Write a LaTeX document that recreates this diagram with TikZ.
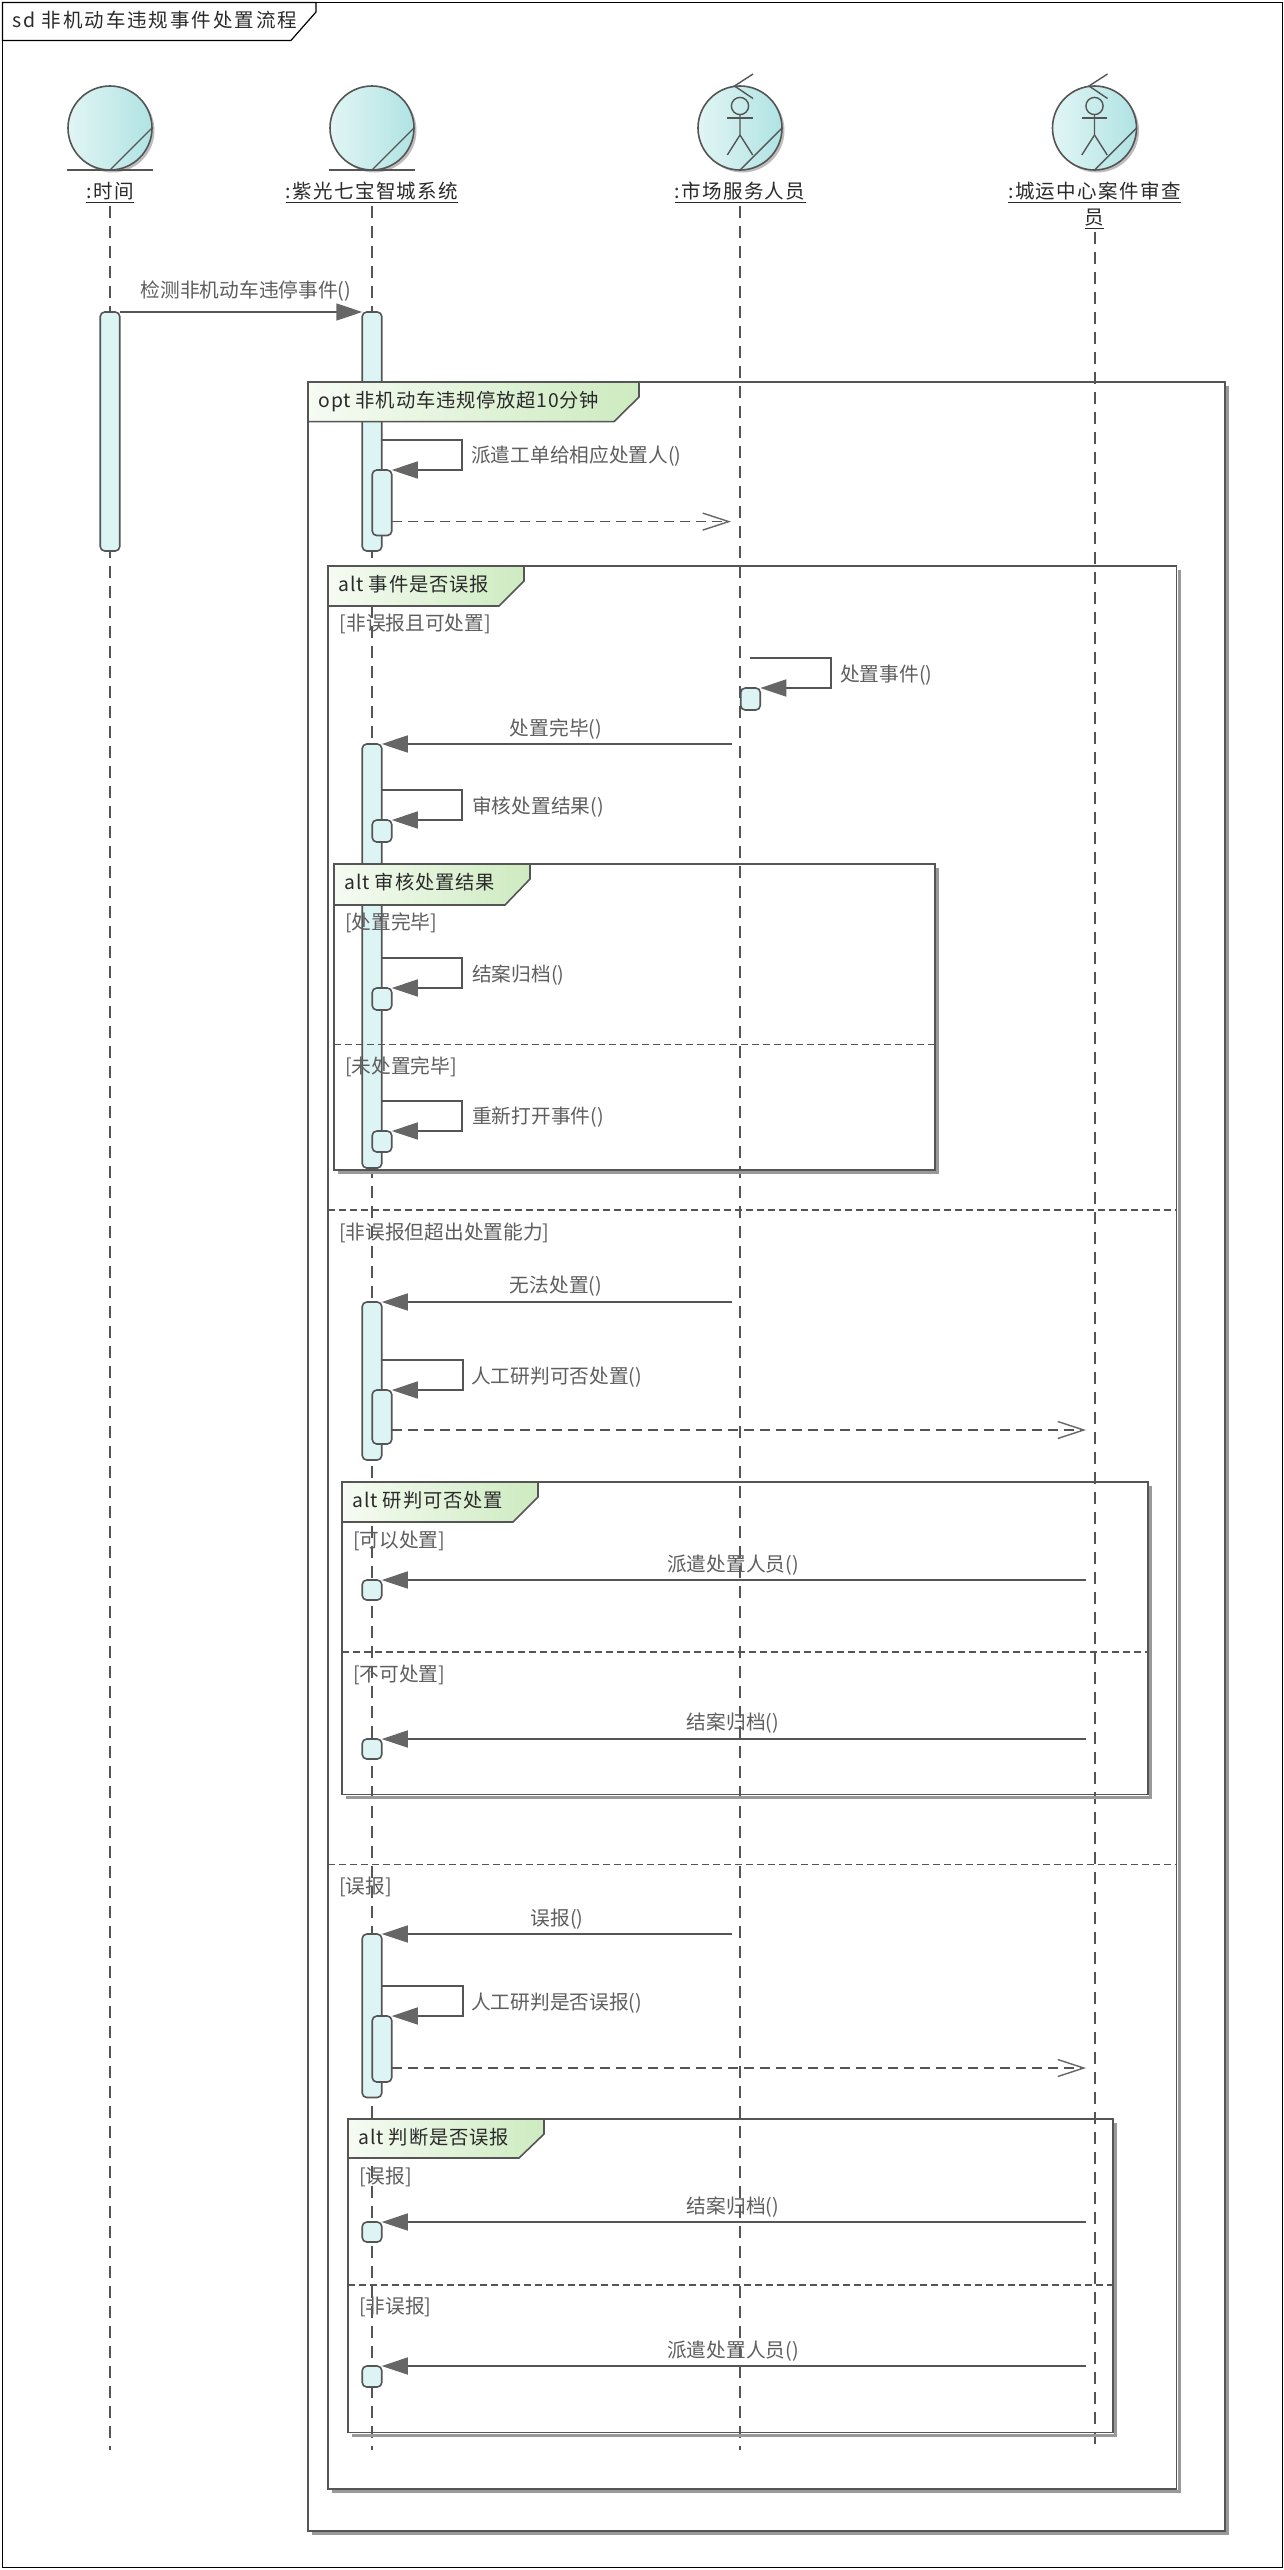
\documentclass[tikz,border=0pt]{standalone}
\usepackage{fontspec}
\setmainfont{Noto Sans CJK SC}
\newfontfamily\lblfont[LetterSpace=7]{Noto Sans CJK SC}
\newfontfamily\sdfont[LetterSpace=10]{Noto Sans CJK SC}
\newfontfamily\ttlfont[LetterSpace=4]{Noto Sans CJK SC}
\usetikzlibrary{arrows.meta}
\definecolor{ln}{HTML}{555555}
\definecolor{tipc}{HTML}{666666}
\definecolor{txtc}{HTML}{5E5E5E}
\definecolor{dark}{HTML}{2A2A2A}
\definecolor{actf}{HTML}{DCF4F4}
\definecolor{hl}{HTML}{E2F5F5}
\definecolor{hm}{HTML}{D8F1F1}
\definecolor{hr}{HTML}{B0E3E3}
\definecolor{tabl}{HTML}{F6FBF3}
\definecolor{tabr}{HTML}{CDEBC0}
\definecolor{shad}{HTML}{999999}
\definecolor{hshad}{HTML}{BDBDBD}
\tikzset{
  x=1pt,y=-1pt,
  headc/.style={circle,draw=ln,line width=1.6pt,minimum size=84pt,inner sep=0pt,outer sep=0pt,left color=hl,middle color=hm,right color=hr},
  uline/.style={draw=ln,line width=1.6pt},
  figline/.style={draw=ln,line width=1.4pt},
  lifel/.style={draw=ln,line width=1.5pt,dash pattern=on 12pt off 8pt},
  actbox/.style={draw=ln,line width=1.6pt,fill=actf,rounded corners=4.5pt,inner sep=0pt,outer sep=0pt,minimum width=19.5pt},
  msg/.style={draw=ln,line width=1.6pt,-{Triangle[length=26pt,width=17pt,fill=tipc,color=tipc]}},
  ret/.style={draw=ln,line width=1.7pt,dash pattern=on 10pt off 6pt,-{Straight Barb[length=26pt,width=17pt,color=tipc,line width=1.4pt]}},
  fragline/.style={draw=ln,line width=1.9pt},
  fragshadow/.style={draw=shad,line width=3pt},
  sepl/.style={draw=ln,line width=1.7pt,dash pattern=on 7pt off 4pt},
  tabf/.style={draw=ln,line width=1.6pt,left color=tabl,right color=tabr},
  lbl/.style={font=\lblfont\fontsize{19.5}{22}\selectfont,text=dark,inner sep=0pt,text height=16pt,text depth=3.5pt},
  mtxt/.style={font=\fontsize{19.7}{22}\selectfont,text=txtc,inner sep=0pt,text height=16pt,text depth=3pt},
  guard/.style={font=\fontsize{19.7}{22}\selectfont,text=txtc,inner sep=0pt,text height=16pt,text depth=3pt,anchor=west},
  ttl/.style={font=\ttlfont\fontsize{19.3}{22}\selectfont,text=dark,inner sep=0pt,text height=16pt,text depth=3pt,anchor=west},
}
\newcommand{\acta}[4]{% name, cx, top, bottom
  \pgfmathsetmacro{\ymid}{(#3+#4)/2}\pgfmathsetmacro{\hgt}{#4-#3}
  \node[actbox,minimum height=\hgt pt] (#1) at (#2,\ymid) {};}
\newcommand{\fragm}[9]{% name,l,t,r,b,tabright,tabbot,notch,title
  \draw[fragshadow] (#4+2.5,#3+4) -- (#4+2.5,#5+2.5) -- (#2+4,#5+2.5);
  \draw[fragline] (#2,#3) rectangle (#4,#5);
  \draw[tabf] (#2,#3) -- (#6,#3) -- (#6,#3+15) -- (#8,#7) -- (#2,#7) -- cycle;
  \node[ttl] (#1) at (#2+10.5,#3+18.5) {#9};}
\newcommand{\headsym}[2]{% name, cx
  \fill[hshad] (#2+2.5,130.5) circle (42pt);
  \node[headc] (#1) at (#2,128) {};
  \draw[figline] (#1.south) -- (#1.east);}
\newcommand{\stick}[1]{%
  \begin{scope}[shift={(#1)}]
    \draw[figline] (0,106) circle (8.6pt);
    \draw[figline] (-12.7,118) -- (12.7,118);
    \draw[figline] (0,114.6) -- (0,135) -- (-12.7,155);
    \draw[figline] (0,135) -- (12.7,155);
    \draw[figline] (13,74) -- (-5.5,86) -- (13,98.5);
  \end{scope}}
\begin{document}
\begin{tikzpicture}
\useasboundingbox (0,0) rectangle (1284,2570);
\fill[white] (0,0) rectangle (1284,2570);
% outer frame
\draw[black,line width=1.2pt] (2.4,2.4) rectangle (1282.6,2567.6);
\draw[black,line width=1.2pt,fill=white] (2.4,2.4) -- (316,2.4) -- (316,12) -- (291,40.4) -- (2.4,40.4) -- cycle;
\node[font=\sdfont\fontsize{19.5}{22}\selectfont,text=dark,inner sep=0pt,text height=16pt,text depth=3pt,anchor=west] (sd) at (12,20.5) {sd 非机动车违规事件处置流程};
% lifeline heads
\headsym{h1}{110}
\headsym{h2}{372}
\headsym{h3}{740}
\headsym{h4}{1094.5}
\draw[uline] (67,170) -- (153,170);
\draw[uline] (329,170) -- (415,170);
\stick{740,0}
\stick{1094.5,0}
% labels
\node[lbl] (l1) at (110,192) {:时间};
\node[lbl] (l2) at (372,192) {:紫光七宝智城系统};
\node[lbl] (l3) at (740,192) {:市场服务人员};
\node[lbl] (l4) at (1094.5,192) {:城运中心案件审查};
\node[lbl] (l4b) at (1094.5,218) {员};
\foreach \n in {l1,l2,l3,l4,l4b} \draw[draw=dark,line width=1.1pt] ([yshift=-0.5pt]\n.south west) -- ([yshift=-0.5pt]\n.south east);
% lifelines
\coordinate (e1) at (110,2450);
\coordinate (e2) at (372,2450);
\coordinate (e3) at (740,2450);
\coordinate (e4) at (1095,2446);
\draw[lifel] ([yshift=-4pt]h1.center |- l1.south) -- (e1);
\draw[lifel] ([yshift=-4pt]h2.center |- l2.south) -- (e2);
\draw[lifel] ([yshift=-4pt]h3.center |- l3.south) -- (e3);
\draw[lifel] ([yshift=-4pt]e4 |- l4b.south) -- (e4);
% activations
\acta{at}{110}{312}{551}
\acta{as}{372}{312}{551}
\acta{as1}{382}{470}{535.5}
\acta{ma}{750.5}{688}{710}
\acta{b}{372}{744}{1168}
\acta{b1}{382}{820}{842}
\acta{b2}{382}{988}{1010}
\acta{b3}{382}{1131}{1152}
\acta{c}{372}{1302}{1460}
\acta{c1}{382}{1390}{1444}
\acta{d1}{372}{1580}{1600}
\acta{d2}{372}{1739}{1759}
\acta{f}{372}{1934}{2097.5}
\acta{f1}{382}{2016}{2082}
\acta{k1}{372}{2222}{2242}
\acta{k2}{372}{2366}{2387}
% fragments
\fragm{fopt}{308}{382}{1225}{2531}{639}{421.6}{614}{opt 非机动车违规停放超10分钟}
\fragm{falt}{328}{566}{1176.5}{2489}{524}{606}{499}{alt 事件是否误报}
\fragm{falta}{334}{864}{935}{1170}{530}{905}{505}{alt 审核处置结果}
\fragm{faltb}{342}{1482}{1148}{1794.5}{538}{1522}{513}{alt 研判可否处置}
\fragm{faltc}{348}{2119}{1113}{2432.5}{544}{2158}{519}{alt 判断是否误报}
% separators
\draw[sepl] (328,1210) -- (1176.5,1210);
\draw[sepl] (328,1864.5) -- (1176.5,1864.5);
\draw[sepl] (334,1044.5) -- (935,1044.5);
\draw[sepl] (342,1652) -- (1148,1652);
\draw[sepl] (348,2285) -- (1113,2285);
% guards
\node[guard] (g1) at (339.5,624) {[非误报且可处置]};
\node[guard] (g2) at (345,923) {[处置完毕]};
\node[guard] (g3) at (345,1067) {[未处置完毕]};
\node[guard] (g4) at (339,1233) {[非误报但超出处置能力]};
\node[guard] (g5) at (353,1541) {[可以处置]};
\node[guard] (g6) at (353,1675) {[不可处置]};
\node[guard] (g7) at (339,1887) {[误报]};
\node[guard] (g8) at (359,2177) {[误报]};
\node[guard] (g9) at (359,2307) {[非误报]};
% messages
\draw[msg] (at.north east) -- (as.north west);
\node[mtxt] (t1) at (246,291) {检测非机动车违停事件()};
\coordinate (s1) at (382,440);
\draw[msg] (s1) -- ++(80,0) |- (as1.north east);
\node[mtxt,anchor=west] (t2) at (471,456) {派遣工单给相应处置人()};
\coordinate (r1) at (731,521.6);
\draw[ret] (as1.east |- r1) -- (r1);
\coordinate (s2) at (750,658);
\draw[msg] (s2) -- ++(81,0) |- (ma.north east);
\node[mtxt,anchor=west] (t3) at (840,675) {处置事件()};
\coordinate (m1) at (732,744);
\draw[msg] (m1) -- (b.north east);
\node[mtxt] (t4) at (556,729) {处置完毕()};
\coordinate (s3) at (382,790);
\draw[msg] (s3) -- ++(80,0) |- (b1.north east);
\node[mtxt,anchor=west] (t5) at (472,807) {审核处置结果()};
\coordinate (s4) at (382,958);
\draw[msg] (s4) -- ++(80,0) |- (b2.north east);
\node[mtxt,anchor=west] (t6) at (472,975) {结案归档()};
\coordinate (s5) at (382,1101);
\draw[msg] (s5) -- ++(80,0) |- (b3.north east);
\node[mtxt,anchor=west] (t7) at (472,1117) {重新打开事件()};
\coordinate (m2) at (732,1302);
\draw[msg] (m2) -- (c.north east);
\node[mtxt] (t8) at (556,1286) {无法处置()};
\coordinate (s6) at (382,1360);
\draw[msg] (s6) -- ++(81,0) |- (c1.north east);
\node[mtxt,anchor=west] (t9) at (471,1377) {人工研判可否处置()};
\coordinate (r2) at (1086,1430);
\draw[ret] (c1.east |- r2) -- (r2);
\coordinate (m3) at (1086,1580);
\draw[msg] (m3) -- (d1.north east);
\node[mtxt] (t10) at (733,1565) {派遣处置人员()};
\coordinate (m4) at (1086,1739);
\draw[msg] (m4) -- (d2.north east);
\node[mtxt] (t11) at (733,1723) {结案归档()};
\coordinate (m5) at (732,1934);
\draw[msg] (m5) -- (f.north east);
\node[mtxt] (t12) at (557,1918.5) {误报()};
\coordinate (s7) at (382,1986);
\draw[msg] (s7) -- ++(81,0) |- (f1.north east);
\node[mtxt,anchor=west] (t13) at (471,2003) {人工研判是否误报()};
\coordinate (r3) at (1086,2068);
\draw[ret] (f1.east |- r3) -- (r3);
\coordinate (m6) at (1086,2222);
\draw[msg] (m6) -- (k1.north east);
\node[mtxt] (t14) at (733,2207) {结案归档()};
\coordinate (m7) at (1086,2366);
\draw[msg] (m7) -- (k2.north east);
\node[mtxt] (t15) at (733,2351) {派遣处置人员()};
\end{tikzpicture}
\end{document}
